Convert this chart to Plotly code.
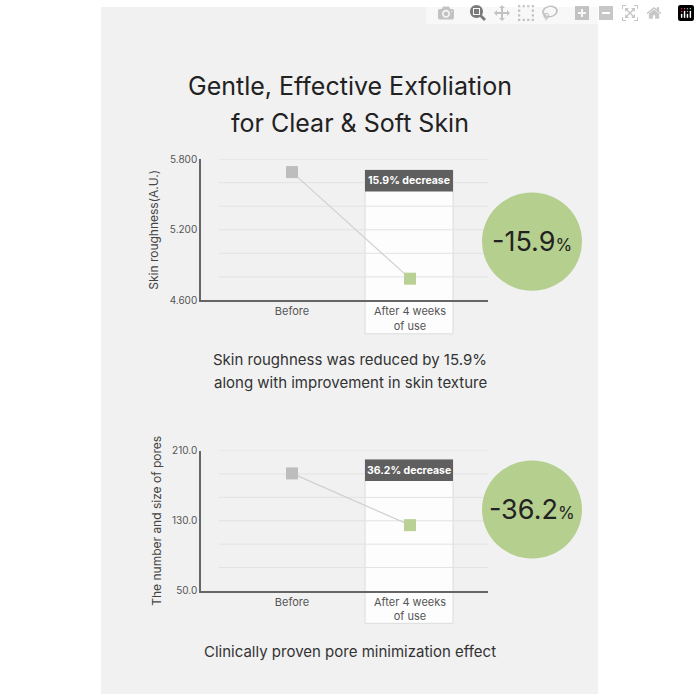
import plotly.graph_objects as go

categories = ["Before", "After 4 weeks<br>of use"]
roughness = [5.69, 4.785]
pores = [184, 125]
decrease_labels = ["15.9% decrease", "36.2% decrease"]
circle_labels = ["-15.9", "-36.2"]

W = H = 700
def px(x): return x / W
def py(y): return 1 - y / H

fig = go.Figure()
mcol = ["#bdbdbd", "#b9d195"]
for i, (vals, ya) in enumerate([(roughness, "y"), (pores, "y2")]):
    fig.add_trace(go.Scatter(x=[0, 1], y=vals, mode="lines+markers",
        line=dict(color="#d0d0d0", width=1.2),
        marker=dict(symbol="square", size=12, color=mcol),
        xaxis="x" if i == 0 else "x2", yaxis=ya, showlegend=False, cliponaxis=False))

xr = [-91/118, 1 + 78/118]
font = "Inter, Noto Sans, sans-serif"
common_x = dict(range=xr, tickvals=[0, 1], ticktext=categories, showgrid=False, zeroline=False,
                showline=True, linecolor="#666", linewidth=1.5, tickfont=dict(size=11, color="#555"),
                ticks="", fixedrange=True)
fig.update_layout(
    width=W, height=H, margin=dict(l=0, r=0, t=0, b=0),
    paper_bgcolor="white", plot_bgcolor="rgba(0,0,0,0)",
    font=dict(family=font),
    xaxis=dict(domain=[px(201), px(488)], anchor="y", **common_x),
    xaxis2=dict(domain=[px(201), px(488)], anchor="y2", **common_x),
    yaxis=dict(domain=[py(299), py(155)], range=[4.6, 5.8], tickvals=[4.6, 5.2, 5.8],
               ticktext=["4.600", "5.200", "5.800"], showgrid=False, zeroline=False,
               showline=True, linecolor="#666", linewidth=1.5,
               tickfont=dict(size=10, color="#555"), anchor="x",
               title=dict(text="Skin roughness(A.U.)", font=dict(size=12, color="#444"), standoff=8)),
    yaxis2=dict(domain=[py(595), py(452)], range=[50, 210], tickvals=[50, 130, 210],
                ticktext=["50.0", "130.0", "210.0"], showgrid=False, zeroline=False,
                showline=True, linecolor="#666", linewidth=1.5,
                tickfont=dict(size=10, color="#555"), anchor="x2",
                title=dict(text="The number and size of pores", font=dict(size=12, color="#444"), standoff=8)),
)

shapes = [dict(type="rect", xref="paper", yref="paper", x0=px(101), x1=px(598), y0=0, y1=1,
               fillcolor="#f1f1f2", line=dict(width=0), layer="below")]
for ya, lo, hi, n in [("y", 4.6, 5.8, 6), ("y2", 50, 210, 6)]:
    for k in range(1, n + 1):
        v = lo + (hi - lo) * k / n
        shapes.append(dict(type="line", xref="x" if ya == "y" else "x2", yref=ya,
                           x0=xr[0] + 0.15, x1=xr[1], y0=v, y1=v,
                           line=dict(color="#e2e2e2", width=1), layer="below"))
bx0, bx1 = (365 - 292) / 118, (453 - 292) / 118
for (top, bot, xa) in [(166, 333, "x"), (461, 628, "x2")]:
    shapes.append(dict(type="rect", xref=xa, yref="paper", x0=bx0, x1=bx1, y0=py(bot), y1=py(top),
                       fillcolor="rgba(255,255,255,0.85)", line=dict(color="#dcdcdc", width=1), layer="below"))
    shapes.append(dict(type="rect", xref=xa, yref="paper", x0=bx0, x1=bx1, y0=py(top + 22), y1=py(top),
                       fillcolor="#5f5f5f", line=dict(width=0)))
for cy in [239, 512]:
    shapes.append(dict(type="circle", xref="paper", yref="paper", x0=px(532 - 50), x1=px(532 + 50),
                       y0=py(cy + 50), y1=py(cy - 50), fillcolor="#b5cf8f", line=dict(width=0)))
fig.update_layout(shapes=shapes)

ann = []
def txt(x, y, t, size, color="#222", **kw):
    ann.append(dict(xref="paper", yref="paper", x=px(x), y=py(y), text=t, showarrow=False,
                    font=dict(size=size, color=color, family=font), xanchor="center", yanchor="middle", **kw))
txt(350, 80, "Gentle, Effective Exfoliation", 25)
txt(350, 118, "for Clear & Soft Skin", 25)
txt(409, 177, "<b>" + decrease_labels[0] + "</b>", 10.5, "white")
txt(409, 472, "<b>" + decrease_labels[1] + "</b>", 10.5, "white")
txt(532, 239, circle_labels[0] + "<span style='font-size:17px'>%</span>", 27)
txt(532, 512, circle_labels[1] + "<span style='font-size:17px'>%</span>", 27)
txt(350, 359, "Skin roughness was reduced by 15.9%", 15, "#333")
txt(350, 383, "along with improvement in skin texture", 15, "#333")
txt(350, 657, "Clinically proven pore minimization effect", 15, "#333")
fig.update_layout(annotations=ann)

fig.write_html("out.html", post_script="document.body.style.margin='0';document.body.style.overflow='hidden';")
